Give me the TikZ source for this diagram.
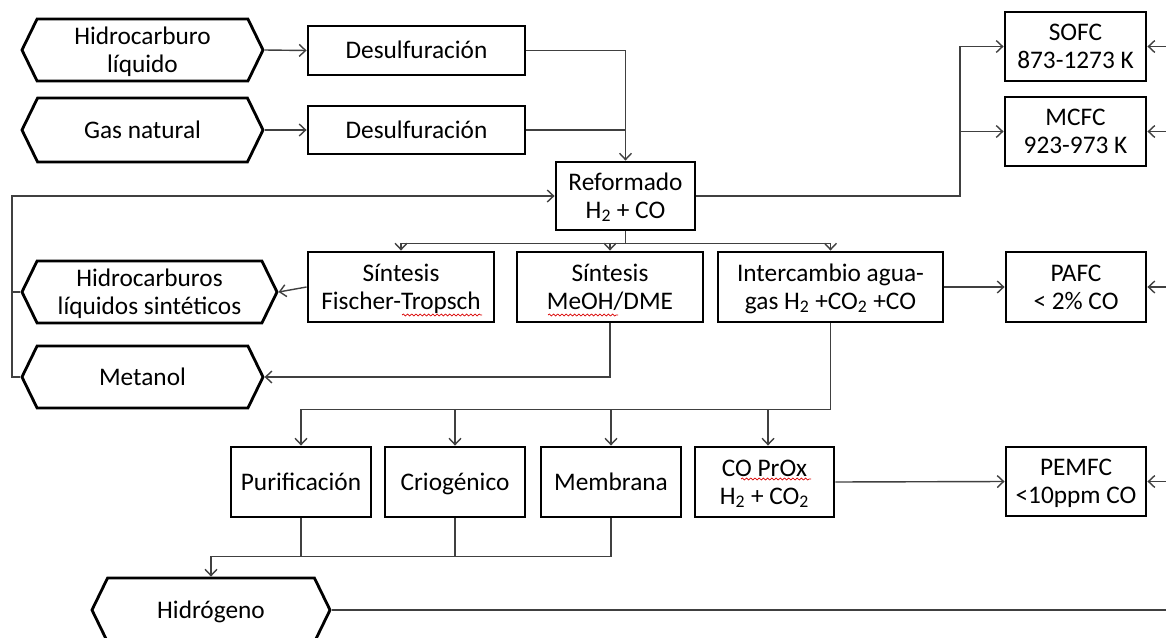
\documentclass[tikz,border=0pt]{standalone}
\usepackage{fontspec}
\setmainfont{Carlito}
\usetikzlibrary{shapes.symbols,arrows.meta,decorations.pathmorphing}

\def\fsize{\fontsize{18}{20}\selectfont}
% dos renglones centrados, separados 20pt
\newcommand\twol[2]{\vbox{\offinterlineskip\vskip 11.7pt
  \hbox to 0pt{\hss\smash{#1}\hss}\vskip 20pt
  \hbox to 0pt{\hss\smash{#2}\hss}}}

\begin{document}
\begin{tikzpicture}[x=0.025cm,y=-0.025cm]

                \tikzstyle{box}   = [rectangle, draw, line width=2pt, inner sep=0pt, font=\fsize]
                \tikzstyle{hexa}  = [signal, signal to=east and west, signal pointer angle=128, draw, line width=2pt, inner sep=0pt, font=\fsize]
                \tikzstyle{one}   = [text height=11.7pt, text depth=0pt]
                \tikzstyle{link}  = [draw=black!75, line width=1pt]
                \tikzstyle{arr}   = [link, -{Straight Barb[length=4.5pt,width=8.5pt]}]
                \tikzstyle{squig} = [red!85!black, line width=0.5pt, decorate, decoration={snake, amplitude=0.7pt, segment length=3pt}]

                \clip (0,0) rectangle (1166,638);

                % entradas
                \node [hexa, minimum width=6.025cm, minimum height=1.55cm](hc) at (142.5, 50) {\twol{Hidrocarburo}{líquido}};
                \node [hexa, one, minimum width=6.025cm, minimum height=1.6cm](gn) at (142.5, 130) {Gas natural};
                \node [box, one, minimum width=5.425cm, minimum height=1.225cm](des1) at (416.5, 50.5) {Desulfuración};
                \node [box, one, minimum width=5.425cm, minimum height=1.2cm](des2) at (416.5, 130) {Desulfuración};
                \node [box, minimum width=3.475cm, minimum height=1.7cm](ref) at (625.5, 196) {\twol{Reformado}{H\textsubscript{2} + CO}};

                % pilas
                \node [box, minimum width=3.525cm, minimum height=1.725cm](sofc) at (1075.5, 46.5) {\twol{SOFC}{873-1273 K}};
                \node [box, minimum width=3.525cm, minimum height=1.725cm](mcfc) at (1075.5, 131.5) {\twol{MCFC}{923-973 K}};
                \node [box, minimum width=3.5cm, minimum height=1.75cm](pafc) at (1076, 287) {\twol{PAFC}{< 2\% CO}};
                \node [box, minimum width=3.5cm, minimum height=1.725cm](pemfc) at (1076, 481.5) {\twol{PEMFC}{<10ppm CO}};

                % sintesis
                \node [box, minimum width=4.65cm, minimum height=1.75cm](ft) at (401, 287) {\twol{Síntesis}{Fischer-Tropsch}};
                \node [box, minimum width=4.65cm, minimum height=1.75cm](meoh) at (610, 287) {\twol{Síntesis}{MeOH/DME}};
                \node [box, minimum width=5.625cm, minimum height=1.75cm](wgs) at (830.5, 287) {\twol{Intercambio agua-}{gas H\textsubscript{2} +CO\textsubscript{2} +CO}};
                \node [hexa, minimum width=6.375cm, minimum height=1.55cm](hls) at (149.5, 292) {\twol{Hidrocarburos}{líquidos sintéticos}};
                \node [hexa, one, minimum width=6.025cm, minimum height=1.55cm](met) at (142.5, 377) {Metanol};

                % separacion
                \node [box, one, minimum width=3.5cm, minimum height=1.75cm](pur) at (301, 482) {Purificación};
                \node [box, one, minimum width=3.5cm, minimum height=1.75cm](crio) at (455, 482) {Criogénico};
                \node [box, one, minimum width=3.5cm, minimum height=1.75cm](memb) at (611, 482) {Membrana};
                \node [box, minimum width=3.475cm, minimum height=1.75cm](prox) at (764.5, 482) {\twol{CO PrOx}{H\textsubscript{2} + CO\textsubscript{2}}};
                \node [hexa, one, minimum width=5.95cm, minimum height=1.6cm](h2) at (211, 610) {Hidrógeno};

                \coordinate (lb) at (12, 0);
                \coordinate (fcx) at (960, 0);
                \coordinate (rb) at (1166, 0);

                \draw [arr] (hc.east) -- (des1.west);
                \draw [arr] (gn.east) -- (des2.west);
                \draw [arr] (des1.east) -| (ref.north);
                \draw [link] (des2.east) -- (des2.east -| ref.north);

                \draw [arr] (ref.east) -- (ref.east -| fcx) |- (sofc.west);
                \draw [arr] (ref.east -| fcx) |- (mcfc.west);

                \draw [link] (ref.south) -- ++(0, 12) coordinate (split);
                \draw [arr] (split) -| (ft.north);
                \draw [arr] (split) -| (meoh.north);
                \draw [arr] (split) -| (wgs.north);

                \draw [arr] (ft.west) -- (hls.east);
                \draw [arr] (meoh.south) |- (met.east);
                \draw [arr] (wgs.east) -- (pafc.west);
                \draw [arr] (met.west) -- (met.west -| lb) |- (ref.west);
                \draw [link] (hls.west) -- (hls.west -| lb);

                \draw [link] (wgs.south) -- ++(0, 86) coordinate (split2);
                \draw [arr] (split2) -| (pur.north);
                \draw [arr] (split2) -| (crio.north);
                \draw [arr] (split2) -| (memb.north);
                \draw [arr] (split2) -| ([xshift=2.5]prox.north);
                \draw [arr] (prox.east) -- (pemfc.west);

                \draw [link] (pur.south) -- ++(0, 38);
                \draw [link] (crio.south) -- ++(0, 38);
                \draw [arr] (memb.south) -- ++(0, 38) -| (h2.north);

                \draw [link] (h2.east) -- (h2.east -| rb);
                \draw [arr] (sofc.east -| rb) -- (sofc.east);
                \draw [arr] (mcfc.east -| rb) -- (mcfc.east);
                \draw [arr] (pafc.east -| rb) -- (pafc.east);
                \draw [arr] (pemfc.east -| rb) -- (pemfc.east);

                % marcas del corrector
                \draw [squig] (402, 315) -- (482, 315);
                \draw [squig] (548, 315) -- (618, 315);
                \draw [squig] (741, 479) -- (811, 479);
\end{tikzpicture}
\end{document}
